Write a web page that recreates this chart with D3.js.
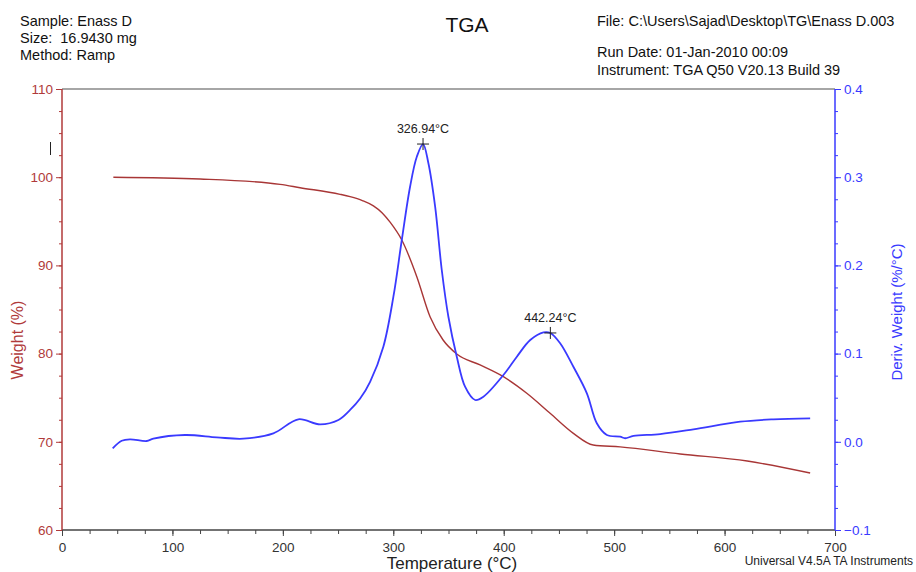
<!DOCTYPE html>
<html>
<head>
<meta charset="utf-8">
<script src="https://cdn.jsdelivr.net/npm/d3@7"></script>
<style>
  html, body { margin: 0; padding: 0; background: #fff; }
  svg { display: block; font-family: "Liberation Sans", Arial, sans-serif; }
</style>
</head>
<body>
<svg id="chart" width="916" height="572"></svg>
<script>
// TGA weight loss (%) versus temperature (°C)
const weightTemp = [46.5, 125, 197.5, 215.6, 251.8, 260.9, 272.0, 282.0, 290.0, 297.1, 307.7, 321.3, 333.3, 345.1, 357.5, 378.6, 399.7, 420.9, 442.0, 463.1, 481.0, 505.4, 559.8, 620.5, 677.5];
const weightPct  = [100.0, 99.80, 99.19, 98.81, 98.06, 97.79, 97.35, 96.75, 95.95, 94.90, 92.88, 88.72, 84.18, 81.54, 79.95, 78.71, 77.38, 75.50, 73.23, 70.96, 69.64, 69.42, 68.62, 67.82, 66.46];

// DTG derivative weight (%/°C) versus temperature (°C)
const derivTemp = [45.9, 54.1, 61.6, 76.7, 82.7, 111.4, 140.1, 164.2, 191.4, 214.0, 233.7, 250.3, 260.9, 270.0, 279.0, 291.0, 300.1, 307.7, 315.2, 321.3, 326.94, 331.8, 337.9, 343.9, 349.9, 357.5, 365.0, 374.1, 381.6, 399.7, 411.9, 424.0, 436.0, 442.24, 451.1, 463.1, 475.3, 484.3, 493.4, 505.4, 510.0, 517.5, 541.7, 571.8, 614.1, 644.3, 677.5];
const derivVal  = [-0.0074, 0.0012, 0.0028, 0.0009, 0.0035, 0.0077, 0.0051, 0.0035, 0.0096, 0.0255, 0.0198, 0.0247, 0.0361, 0.0490, 0.0680, 0.1078, 0.1645, 0.2288, 0.2892, 0.3232, 0.3376, 0.3158, 0.2666, 0.1948, 0.1418, 0.0965, 0.0625, 0.0474, 0.0511, 0.0757, 0.0965, 0.1154, 0.1241, 0.1234, 0.1117, 0.0851, 0.0550, 0.0210, 0.0077, 0.0058, 0.0040, 0.0066, 0.0088, 0.0142, 0.0228, 0.0255, 0.0266];

// Labelled peak temperatures
const peakTemps = [326.94, 442.24];
const peakLabels = ["326.94°C", "442.24°C"];

// Axis ticks
const xTicks = [0, 100, 200, 300, 400, 500, 600, 700];
const yLeftTicks = [60, 70, 80, 90, 100, 110];
const yRightTicks = [-0.1, 0.0, 0.1, 0.2, 0.3, 0.4];

// Header text
const headerLeft = ["Sample: Enass D", "Size:\u00a0 16.9430 mg", "Method: Ramp"];
const headerRight = ["File: C:\\Users\\Sajad\\Desktop\\TG\\Enass D.003", "Run Date: 01-Jan-2010 00:09", "Instrument: TGA Q50 V20.13 Build 39"];

const RED = "#b03a3a";
const LINE_RED = "#a83636";
const BLUE = "#3a3aff";

const svg = d3.select("#chart");
const m = { left: 62, right: 835, top: 89, bottom: 530 };

const x = d3.scaleLinear().domain([0, 700]).range([m.left, m.right]);
const yL = d3.scaleLinear().domain([60, 110]).range([m.bottom, m.top]);
const yR = d3.scaleLinear().domain([-0.1, 0.4]).range([m.bottom, m.top]);

// Header
svg.append("g").selectAll("text").data(headerLeft).join("text")
  .attr("x", 20).attr("y", (d, i) => 25.5 + i * 17)
  .attr("font-size", 14.5).attr("fill", "#111").text(d => d);
svg.append("g").selectAll("text").data(headerRight).join("text")
  .attr("x", 597).attr("y", (d, i) => [25.5, 56.5, 74.5][i])
  .attr("font-size", 14.5).attr("fill", "#111").text(d => d);
svg.append("text").attr("x", 467).attr("y", 31.5).attr("text-anchor", "middle")
  .attr("font-size", 21).attr("fill", "#111").text("TGA");

// Frame top edge
svg.append("line").attr("x1", m.left).attr("x2", m.right).attr("y1", m.top).attr("y2", m.top)
  .attr("stroke", "#888").attr("stroke-width", 1.5);

// Bottom axis: minor ticks every 25 °C, labelled majors every 100 °C
const gx = svg.append("g").attr("transform", `translate(0,${m.bottom})`);
gx.append("g").call(d3.axisBottom(x).tickValues(d3.range(0, 701, 25)).tickSize(4).tickFormat(""))
  .call(g => g.select(".domain").remove());
gx.append("g").call(d3.axisBottom(x).tickValues(xTicks).tickSize(6).tickFormat(d3.format("d")))
  .call(g => g.select(".domain").remove());
gx.selectAll(".tick line").attr("stroke", "#444");
gx.selectAll(".tick text").attr("font-size", 13.5).attr("fill", "#333").attr("dy", "0.95em");
gx.selectAll("g").attr("font-family", null);
svg.append("line").attr("x1", m.left).attr("x2", m.right).attr("y1", m.bottom).attr("y2", m.bottom)
  .attr("stroke", "#444").attr("stroke-width", 1.5);

// Left axis (weight)
const gl = svg.append("g").attr("transform", `translate(${m.left},0)`);
gl.append("g").call(d3.axisLeft(yL).tickValues(d3.range(60, 110.01, 2.5)).tickSize(3).tickFormat(""))
  .call(g => g.select(".domain").remove());
gl.append("g").call(d3.axisLeft(yL).tickValues(yLeftTicks).tickSize(6).tickFormat(d3.format("d")))
  .call(g => g.select(".domain").remove());
gl.selectAll(".tick line").attr("stroke", RED);
gl.selectAll(".tick text").attr("font-size", 13.5).attr("fill", RED).attr("x", -9);
gl.selectAll("g").attr("font-family", null);
svg.append("line").attr("x1", m.left).attr("x2", m.left).attr("y1", m.top).attr("y2", m.bottom)
  .attr("stroke", RED).attr("stroke-width", 1.5);

// Right axis (derivative weight)
const gr = svg.append("g").attr("transform", `translate(${m.right},0)`);
gr.append("g").call(d3.axisRight(yR).tickValues(d3.range(-0.1, 0.4001, 0.025)).tickSize(3).tickFormat(""))
  .call(g => g.select(".domain").remove());
gr.append("g").call(d3.axisRight(yR).tickValues(yRightTicks).tickSize(6).tickFormat(d3.format(".1f")))
  .call(g => g.select(".domain").remove());
gr.selectAll(".tick line").attr("stroke", BLUE);
gr.selectAll(".tick text").attr("font-size", 13.5).attr("fill", BLUE).attr("x", 9);
gr.selectAll("g").attr("font-family", null);
svg.append("line").attr("x1", m.right).attr("x2", m.right).attr("y1", m.top).attr("y2", m.bottom)
  .attr("stroke", BLUE).attr("stroke-width", 1.5);

// Axis titles
svg.append("text").attr("x", 452).attr("y", 569).attr("text-anchor", "middle")
  .attr("font-size", 17).attr("fill", "#222").text("Temperature (°C)");
svg.append("text").attr("transform", "translate(23,340) rotate(-90)").attr("text-anchor", "middle")
  .attr("font-size", 16).attr("fill", RED).text("Weight (%)");
svg.append("text").attr("transform", "translate(902,312) rotate(-90)").attr("text-anchor", "middle")
  .attr("font-size", 15).attr("fill", BLUE).text("Deriv. Weight (%/°C)");
svg.append("text").attr("x", 913).attr("y", 565).attr("text-anchor", "end")
  .attr("font-size", 12).attr("fill", "#222").text("Universal V4.5A TA Instruments");

// Small stray mark near the left axis
svg.append("line").attr("x1", 50.5).attr("x2", 50.5).attr("y1", 142).attr("y2", 155)
  .attr("stroke", "#222").attr("stroke-width", 1);

// Weight curve
const wData = weightTemp.map((t, i) => [t, weightPct[i]]);
svg.append("path").datum(wData)
  .attr("fill", "none").attr("stroke", LINE_RED).attr("stroke-width", 1.4)
  .attr("d", d3.line().x(d => x(d[0])).y(d => yL(d[1])).curve(d3.curveMonotoneX));

// Derivative curve
const dData = derivTemp.map((t, i) => [t, derivVal[i]]);
svg.append("path").datum(dData)
  .attr("fill", "none").attr("stroke", BLUE).attr("stroke-width", 1.8)
  .attr("d", d3.line().x(d => x(d[0])).y(d => yR(d[1])).curve(d3.curveCatmullRom.alpha(0.5)));

// Peak markers
peakTemps.forEach((t, i) => {
  const v = derivVal[derivTemp.indexOf(t)];
  const px = x(t), py = yR(v);
  const g = svg.append("g");
  g.append("line").attr("x1", px - 6).attr("x2", px + 6).attr("y1", py).attr("y2", py)
    .attr("stroke", "#222").attr("stroke-width", 1);
  g.append("line").attr("x1", px).attr("x2", px).attr("y1", py - 6).attr("y2", py + 6)
    .attr("stroke", "#222").attr("stroke-width", 1);
  g.append("text").attr("x", px).attr("y", py - 11).attr("text-anchor", "middle")
    .attr("font-size", 12.5).attr("fill", "#222").text(peakLabels[i]);
});
</script>
</body>
</html>
